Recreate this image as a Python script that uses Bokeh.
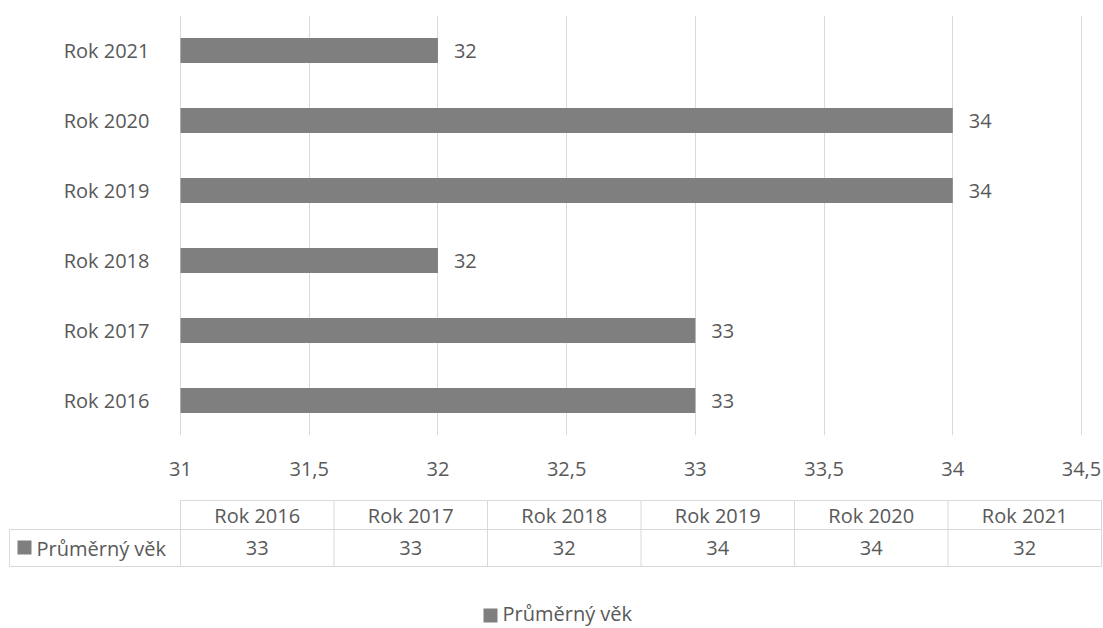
from bokeh.plotting import figure
from bokeh.models import Range1d, FactorRange, FixedTicker
from bokeh.layouts import column
from bokeh.embed import file_html
from bokeh.resources import INLINE
from bokeh.core.properties import value

# ---- data ----
categories = ["Rok 2016", "Rok 2017", "Rok 2018", "Rok 2019", "Rok 2020", "Rok 2021"]
values = [33, 33, 32, 34, 34, 32]
series_name = "Průměrný věk"
x_ticks = [31, 31.5, 32, 32.5, 33, 33.5, 34, 34.5]
x_tick_labels = ["31", "31,5", "32", "32,5", "33", "33,5", "34", "34,5"]

FONT = "Open Sans"
FS = "20px"
TXT = "#595959"
GRID = "#d9d9d9"
BAR = "#7f7f7f"

W = 1103
# pixel positions of the value axis ends inside the full-width frame
PX0, PX1 = 180, 1081
X0, X1 = x_ticks[0], x_ticks[-1]
k = (X1 - X0) / (PX1 - PX0)
x_start = X0 - PX0 * k
x_end = X1 + (W - PX1) * k

# ---- main bar chart ----
p = figure(width=W, height=490,
           y_range=FactorRange(*categories), x_range=Range1d(x_start, x_end),
           output_backend="svg", toolbar_location=None,
           min_border_left=0, min_border_right=0,
           min_border_top=15, min_border_bottom=55)
p.outline_line_color = None

p.hbar(y=categories, left=X0, right=values, height=0.36,
       fill_color=BAR, line_color=None)
p.text(x=values, y=categories, text=[str(v) for v in values],
       x_offset=16, text_align="left", text_baseline="middle",
       text_font=value(FONT), text_font_size=FS, text_color=TXT)

p.xaxis.ticker = FixedTicker(ticks=x_ticks)
p.xaxis.major_label_overrides = {t: l for t, l in zip(x_ticks, x_tick_labels)}
p.xaxis.axis_line_color = None
p.xaxis.major_tick_line_color = None
p.xaxis.minor_tick_line_color = None
p.xaxis.major_label_standoff = 20
p.xgrid.ticker = FixedTicker(ticks=x_ticks)
p.xgrid.grid_line_color = GRID
p.ygrid.grid_line_color = None

p.yaxis.fixed_location = X0
p.yaxis.axis_line_color = None
p.yaxis.major_tick_line_color = None
p.yaxis.minor_tick_line_color = None
p.yaxis.major_label_standoff = 25

for ax in (p.xaxis, p.yaxis):
    ax.major_label_text_font = FONT
    ax.major_label_text_font_size = FS
    ax.major_label_text_color = TXT

# ---- data table + legend ----
q = figure(width=W, height=138,
           x_range=Range1d(0, W), y_range=Range1d(628, 490),
           output_backend="svg", toolbar_location=None, min_border=0)
q.axis.visible = False
q.grid.grid_line_color = None
q.outline_line_color = None

col_left, col_right, lab_left = 180, 1101, 9
y_top, y_mid, y_bot = 500, 529, 566
n = len(categories)
col_w = (col_right - col_left) / n
col_edges = [col_left + i * col_w for i in range(n + 1)]
centers = [col_left + (i + 0.5) * col_w for i in range(n)]

# horizontal lines
q.segment(x0=[col_left, lab_left, lab_left], y0=[y_top, y_mid, y_bot],
          x1=[col_right, col_right, col_right], y1=[y_top, y_mid, y_bot],
          line_color=GRID, line_width=1)
# vertical lines
q.segment(x0=col_edges + [lab_left], y0=[y_top] * (n + 1) + [y_mid],
          x1=col_edges + [lab_left], y1=[y_bot] * (n + 2),
          line_color=GRID, line_width=1)

q.text(x=centers, y=[(y_top + y_mid) / 2] * n, text=categories,
       text_align="center", text_baseline="middle",
       text_font=value(FONT), text_font_size=FS, text_color=TXT)
q.text(x=centers, y=[(y_mid + y_bot) / 2] * n, text=[str(v) for v in values],
       text_align="center", text_baseline="middle",
       text_font=value(FONT), text_font_size=FS, text_color=TXT)

# series key inside table
q.rect(x=[24], y=[547], width=14, height=14, fill_color=BAR, line_color=None)
q.text(x=[36], y=[(y_mid + y_bot) / 2], text=[series_name],
       text_align="left", text_baseline="middle",
       text_font=value(FONT), text_font_size=FS, text_color=TXT)

# bottom legend
q.rect(x=[490], y=[615], width=14, height=14, fill_color=BAR, line_color=None)
q.text(x=[502], y=[613], text=[series_name],
       text_align="left", text_baseline="middle",
       text_font=value(FONT), text_font_size=FS, text_color=TXT)

layout = column(p, q, spacing=0)
open("out.html", "w").write(file_html(layout, INLINE))
